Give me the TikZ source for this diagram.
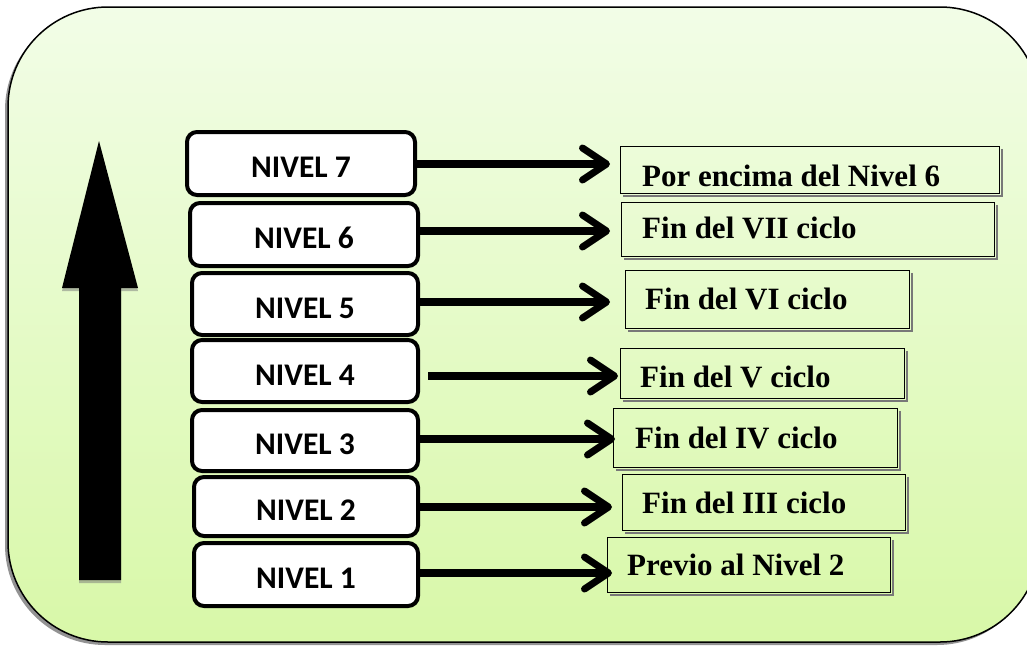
\documentclass[tikz,border=0pt]{standalone}
\usepackage{fontspec}
\newfontfamily\lvlfont{Carlito}
\newfontfamily\lblfont{Liberation Serif}
\usetikzlibrary{arrows.meta,shadows}
\definecolor{bgtop}{RGB}{242,253,231}
\definecolor{bgbot}{RGB}{216,248,168}
\definecolor{shadowc}{RGB}{120,120,120}
\begin{document}
\begin{tikzpicture}[x=1pt,y=-1pt,
  lvl/.style={draw=black, line width=4pt, fill=white, rounded corners=10pt,
    inner sep=0pt, text height=28pt, text depth=0pt,
    font=\lvlfont\bfseries\fontsize{31.5}{31.5}\selectfont},
  lbox/.style={draw=black, line width=1.2pt, inner sep=0pt},
  lshadow/.style={draw=shadowc, line width=1.4pt},
  ltext/.style={anchor=base west, inner sep=0pt,
    font=\lblfont\bfseries\fontsize{31}{31}\selectfont},
  conn/.style={line width=8pt, -{Straight Barb[length=24pt, width=32pt, line width=7pt, round]}}
]
\useasboundingbox (0,0) rectangle (1027,645);
\clip (0,0) rectangle (1027,645);
% background panel
\draw[line width=1.5pt, top color=bgtop, bottom color=bgbot, rounded corners=100pt,
  drop shadow={shadow xshift=-3pt, shadow yshift=-3pt, fill=shadowc, opacity=.8}]
  (8,7) rectangle (1040,642);
% big up arrow
\fill[black, drop shadow={shadow xshift=0pt, shadow yshift=-3pt, fill=shadowc, opacity=.5}]
  (99,141) -- (138,288) -- (121,288) -- (121,580) -- (79,580) -- (79,288) -- (62,288) -- cycle;
% level boxes
\node[lvl, minimum width=228pt, minimum height=63pt] (n7) at (301,163.5) {NIVEL 7};
\node[lvl, minimum width=228pt, minimum height=63pt] (n6) at (304,234.5) {NIVEL 6};
\node[lvl, minimum width=226pt, minimum height=62pt] (n5) at (305,304) {NIVEL 5};
\node[lvl, minimum width=226pt, minimum height=62pt] (n4) at (305,371) {NIVEL 4};
\node[lvl, minimum width=226pt, minimum height=61pt] (n3) at (305,440.5) {NIVEL 3};
\node[lvl, minimum width=224pt, minimum height=59pt] (n2) at (306,506.5) {NIVEL 2};
\node[lvl, minimum width=224pt, minimum height=63pt] (n1) at (306,574.5) {NIVEL 1};
% label boxes
\node[lbox, minimum width=379pt, minimum height=47pt] (r7) at (810,170) {};
\node[lbox, minimum width=373pt, minimum height=54pt] (r6) at (808,229.5) {};
\node[lbox, minimum width=284pt, minimum height=58pt] (r5) at (767.5,299.5) {};
\node[lbox, minimum width=284pt, minimum height=50pt] (r4) at (762.5,373.5) {};
\node[lbox, minimum width=284pt, minimum height=59pt] (r3) at (755.5,438) {};
\node[lbox, minimum width=283pt, minimum height=56pt] (r2) at (764,502.5) {};
\node[lbox, minimum width=283pt, minimum height=55pt] (r1) at (749,565) {};
\foreach \r in {r7,r6,r5,r4,r3,r2,r1}{
  \draw[lshadow] ([shift={(1.8,3)}]\r.north east) -- ([shift={(1.8,1.8)}]\r.south east)
    -- ([shift={(3,1.8)}]\r.south west);
}
\node[ltext] (t7) at (642,186) {Por encima del Nivel 6};
\node[ltext] (t6) at (642,238) {Fin del VII ciclo};
\node[ltext] (t5) at (645,309) {Fin del VI ciclo};
\node[ltext] (t4) at (640,387) {Fin del V ciclo};
\node[ltext] (t3) at (635,448) {Fin del IV ciclo};
\node[ltext] (t2) at (642,513) {Fin del III ciclo};
\node[ltext] (t1) at (627,575) {Previo al Nivel 2};
% connectors
\coordinate (a7) at (610,164);
\coordinate (a6) at (610,231);
\coordinate (a5) at (610,302);
\coordinate (a4) at (618,376);
\coordinate (a3) at (615,439);
\coordinate (a2) at (612,507);
\coordinate (a1) at (612,573);
\draw[conn] (n7.east |- a7) -- (a7);
\draw[conn] (n6.east |- a6) -- (a6);
\draw[conn] (n5.east |- a5) -- (a5);
\draw[conn, shorten <=8pt] (n4.east |- a4) -- (a4);
\draw[conn] (n3.east |- a3) -- (a3);
\draw[conn] (n2.east |- a2) -- (a2);
\draw[conn] (n1.east |- a1) -- (a1);
\end{tikzpicture}
\end{document}
